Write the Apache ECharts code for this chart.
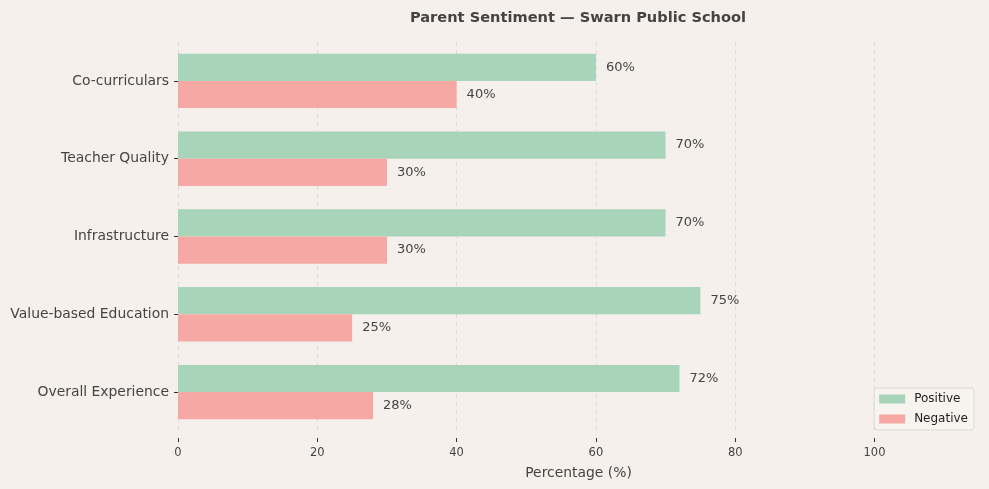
<!DOCTYPE html>
<html>
<head>
<meta charset="utf-8">
<script src="https://cdn.jsdelivr.net/npm/echarts@6/dist/echarts.min.js"></script>
<style>
  html, body { margin: 0; padding: 0; background: #f5f0ec; }
  #chart { width: 989px; height: 489px; }
</style>
</head>
<body>
<div id="chart"></div>
<script>
const categories = ['Co-curriculars', 'Teacher Quality', 'Infrastructure', 'Value-based Education', 'Overall Experience'];
const positive = [60, 70, 70, 75, 72];
const negative = [40, 30, 30, 25, 28];
const xTicks = [0, 20, 40, 60, 80, 100];

const textColor = '#444444';
const font = 'DejaVu Sans';

const chart = echarts.init(document.getElementById('chart'));

chart.setOption({
    backgroundColor: '#f5f0ec',
    textStyle: { fontFamily: font },
    animation: false,
    title: {
        text: 'Parent Sentiment \u2014 Swarn Public School',
        left: 573,
        textAlign: 'center',
        top: 6,
        textStyle: { fontFamily: font, fontSize: 14.6, fontWeight: 'bold', color: textColor }
    },
    legend: {
        orient: 'vertical',
        right: 15,
        bottom: 59,
        icon: 'rect',
        itemWidth: 26,
        itemHeight: 9,
        itemGap: 8,
        padding: [5, 6, 5, 5],
        borderColor: '#dcd8d4',
        borderWidth: 1,
        borderRadius: 3,
        backgroundColor: 'rgba(247,243,240,0.9)',
        textStyle: { fontFamily: font, fontSize: 12, color: '#222', padding: [0, 0, 0, 4] },
        data: ['Positive', 'Negative']
    },
    grid: {
        left: 178,
        right: 10,
        top: 42,
        height: 389,
        containLabel: false
    },
    xAxis: {
        type: 'value',
        min: 0,
        max: 115,
        interval: 20,
        offset: 7,
        name: 'Percentage (%)',
        nameLocation: 'middle',
        nameGap: 28,
        nameTextStyle: { fontFamily: font, fontSize: 13.9, color: textColor },
        axisLine: { show: false },
        axisTick: { show: true, length: 4, lineStyle: { color: '#333' }, customValues: xTicks },
        axisLabel: { fontSize: 11.5, color: textColor, margin: 9, customValues: xTicks },
        splitLine: {
            show: true,
            lineStyle: { type: [4, 4], color: '#dedad6', width: 1 }
        }
    },
    yAxis: {
        type: 'category',
        data: categories,
        inverse: true,
        axisLine: { show: false },
        axisTick: { show: true, length: 4, alignWithLabel: true, lineStyle: { color: '#333' } },
        axisLabel: { fontSize: 13.9, color: textColor, margin: 9, padding: [4, 0, 0, 0] },
        splitLine: { show: false }
    },
    series: [
        {
            name: 'Positive',
            type: 'bar',
            data: positive,
            barWidth: 27.2,
            barGap: '0%',
            itemStyle: { color: '#a8d5ba' },
            label: {
                show: true,
                position: 'right',
                distance: 10,
                formatter: '{c}%',
                fontSize: 13,
                color: textColor
            }
        },
        {
            name: 'Negative',
            type: 'bar',
            data: negative,
            barWidth: 27.2,
            barGap: '0%',
            itemStyle: { color: '#f6a8a4' },
            label: {
                show: true,
                position: 'right',
                distance: 10,
                formatter: '{c}%',
                fontSize: 13,
                color: textColor
            }
        }
    ]
});
</script>
</body>
</html>
